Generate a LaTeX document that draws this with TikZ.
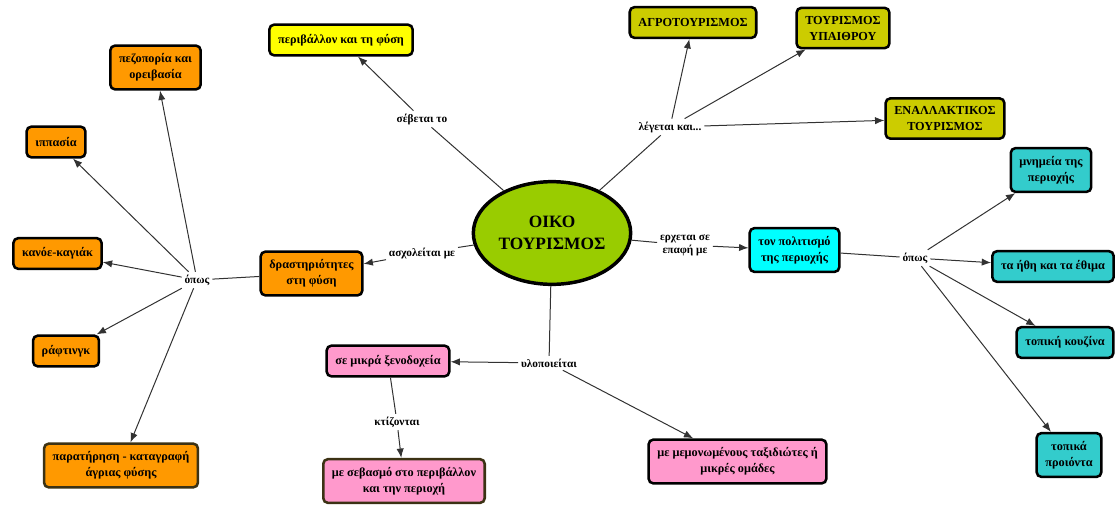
\documentclass[tikz,border=0pt]{standalone}
\usepackage{fontspec}
\setmainfont{Liberation Serif}
\usetikzlibrary{arrows.meta,shapes.geometric}

\tikzset{
  box/.style={draw=black, line width=1.9pt, rounded corners=3.5pt, align=center,
    font=\bfseries\fontsize{9.2}{12}\selectfont, inner xsep=6.5pt, inner ysep=6pt, minimum height=23pt},
  yellowbox/.style={box, fill={rgb, 255:red, 255; green, 255; blue, 0 }},
  olivebox/.style={box, fill={rgb, 255:red, 204; green, 204; blue, 0 }},
  orangebox/.style={box, fill={rgb, 255:red, 255; green, 153; blue, 0 }},
  tealbox/.style={box, fill={rgb, 255:red, 51; green, 204; blue, 204 }},
  cyanbox/.style={box, fill={rgb, 255:red, 0; green, 255; blue, 255 }},
  pinkbox/.style={box, fill={rgb, 255:red, 255; green, 153; blue, 204 }},
  linkword/.style={font=\bfseries\fontsize{8.5}{10}\selectfont, inner sep=2pt, align=center},
  conn/.style={draw={rgb, 255:red, 50; green, 50; blue, 50 }, line width=0.75pt},
  arr/.style={conn, -{Latex[length=7pt,width=5.5pt]}},
}

\begin{document}
\begin{tikzpicture}[x=0.75pt,y=0.75pt,yscale=-1,xscale=1]
\useasboundingbox (0,0) rectangle (1118,504);

% Ellipse
\node [ellipse, draw=black, line width=2.6pt, fill={rgb, 255:red, 153; green, 204; blue, 0 },
  minimum width=118pt, minimum height=77pt, inner sep=0pt, align=center,
  font=\bfseries\fontsize{13}{16}\selectfont] (oiko) at (552,233) {ΟΙΚΟ\\ΤΟΥΡΙΣΜΟΣ};

% Text Node
\node [yellowbox] (fysi) at (341,40) {περιβάλλον και τη φύση};
% Text Node
\node [olivebox] (agro) at (693,22.5) {ΑΓΡΟΤΟΥΡΙΣΜΟΣ};
% Text Node
\node [olivebox] (ypaith) at (843,28) {ΤΟΥΡΙΣΜΟΣ\\ΥΠΑΙΘΡΟΥ};
% Text Node
\node [olivebox] (enall) at (945,118.5) {ΕΝΑΛΛΑΚΤΙΚΟΣ\\ΤΟΥΡΙΣΜΟΣ};
% Text Node
\node [cyanbox] (polit) at (794.5,250) {τον πολιτισμό\\της περιοχής};
% Text Node
\node [tealbox] (mnim) at (1051,170) {μνημεία της\\περιοχής};
% Text Node
\node [tealbox] (ithi) at (1053,266.5) {τα ήθη και τα έθιμα};
% Text Node
\node [tealbox] (kouz) at (1065,342.5) {τοπική κουζίνα};
% Text Node
\node [tealbox] (proi) at (1069,455) {τοπικά\\προιόντα};
% Text Node
\node [orangebox] (drast) at (311.5,273.5) {δραστηριότητες\\στη φύση};
% Text Node
\node [orangebox] (pezo) at (155.5,67.5) {πεζοπορία και\\ορειβασία};
% Text Node
\node [orangebox] (ippa) at (56,142) {ιππασία};
% Text Node
\node [orangebox] (kano) at (57.5,253.5) {κανόε-καγιάκ};
% Text Node
\node [orangebox] (raft) at (66,351) {ράφτινγκ};
% Text Node
\node [orangebox, draw={rgb, 255:red, 60; green, 50; blue, 20 }] (parat) at (121,465.5) {παρατήρηση - καταγραφή\\άγριας φύσης};
% Text Node
\node [pinkbox] (xeno) at (388,361) {σε μικρά ξενοδοχεία};
% Text Node
\node [pinkbox, draw={rgb, 255:red, 60; green, 50; blue, 20 }] (seva) at (404,481) {με σεβασμό στο περιβάλλον\\και την περιοχή};
% Text Node
\node [pinkbox] (memo) at (737.5,461.5) {με μεμονωμένους ταξιδιώτες ή\\μικρές ομάδες};

% Linking words
\node [linkword] (sev) at (422,119) {σέβεται το};
\node [linkword] (leg) at (670,127) {λέγεται και...};
\node [linkword] (erx) at (685,245) {ερχεται σε\\επαφή με};
\node [linkword] (asx) at (422,253) {ασχολείται με};
\node [linkword] (opwsL) at (197,280) {όπως};
\node [linkword] (opwsR) at (915,258) {όπως};
\node [linkword] (ylo) at (549,363) {υλοποιείται};
\node [linkword] (kti) at (397,422) {κτίζονται};

%Straight Lines
\draw [conn] (oiko) -- (sev);
\draw [arr] (sev) -- (fysi);
%Straight Lines
\draw [conn] (oiko) -- (leg);
\draw [arr] (leg) -- (agro);
\draw [arr] (leg) -- (ypaith);
\draw [arr] (leg) -- (enall);
%Straight Lines
\draw [conn] (oiko) -- (erx);
\draw [arr] (erx) -- (polit);
\draw [conn] (polit) -- (opwsR);
\draw [arr] (opwsR) -- (mnim);
\draw [arr] (opwsR) -- (ithi);
\draw [arr] (opwsR) -- (kouz);
\draw [arr] (opwsR) -- (proi);
%Straight Lines
\draw [conn] (oiko) -- (asx);
\draw [arr] (asx) -- (drast);
\draw [conn] (drast) -- (opwsL);
\draw [arr] (opwsL) -- (pezo);
\draw [arr] (opwsL) -- (ippa);
\draw [arr] (opwsL) -- (kano);
\draw [arr] (opwsL) -- (raft);
\draw [arr] (opwsL) -- (parat);
%Straight Lines
\draw [conn] (oiko) -- (ylo);
\draw [arr] (ylo) -- (xeno);
\draw [arr] (ylo) -- (memo);
\draw [conn] (xeno) -- (kti);
\draw [arr] (kti) -- (seva);

\end{tikzpicture}
\end{document}
